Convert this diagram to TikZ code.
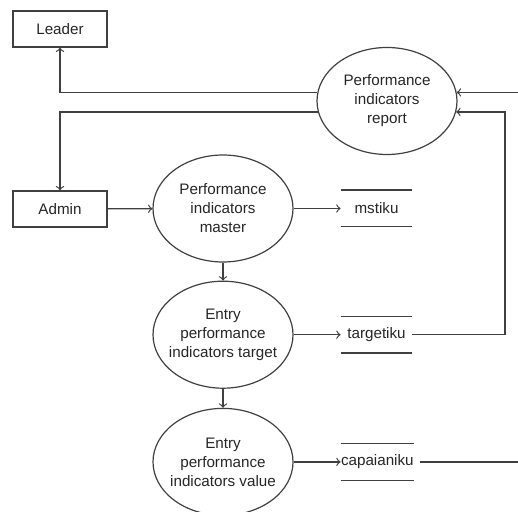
\documentclass[tikz,border=0pt]{standalone}
\usepackage{fontspec}
\setmainfont{Liberation Sans}
\usetikzlibrary{shapes.geometric,positioning}

\begin{document}
\begin{tikzpicture}[x=0.5pt,y=-0.5pt,
        every node/.style={font=\fontsize{7.6}{9.5}\selectfont, text=black!85, align=center},
        entity/.style={draw=black!75, line width=0.6pt, minimum width=47pt, minimum height=18pt, inner sep=0pt},
        process/.style={draw=black!75, line width=0.6pt, ellipse, minimum width=70pt, minimum height=53.5pt, inner xsep=-4pt, inner ysep=0pt},
        store/.style={minimum width=35.5pt, minimum height=18pt, inner sep=0pt},
        flow/.style={->, draw=black!75, line width=0.6pt},
        line/.style={draw=black!75, line width=0.6pt}]
    \useasboundingbox (0,0) rectangle (518,512);

    % external entities
    \node[entity] (leader) at (60,29) {Leader};
    \node[entity] (admin) at (60,209) {Admin};

    % processes
    \node[process] (report) at (387,101) {Performance\\indicators\\report};
    \node[process] (master) at (223,208.5) {Performance\\indicators\\master};
    \node[process, below=9pt of master] (target) {Entry\\performance\\indicators target};
    \node[process, below=9.5pt of target] (value) {Entry\\performance\\indicators value};

    % data stores
    \node[store, right=23.5pt of master] (mstiku) {mstiku};
    \node[store, right=23.5pt of target] (targetiku) {targetiku};
    \node[store, right=23.5pt of value] (capaianiku) {capaianiku};
    \foreach \s in {mstiku,targetiku,capaianiku}
        \draw[line] (\s.north west) -- (\s.north east) (\s.south west) -- (\s.south east);

    \coordinate (loop) at (report.351 -| 505,0);
    \coordinate (rin) at (report.7 -| 518,0);
    \coordinate (rout) at (capaianiku.east -| 518,0);

    % flows
    \draw[flow] (report.173) -| (leader);
    \draw[flow] (report.189) -| (admin);
    \draw[flow] (admin) -- (master);
    \draw[flow] (master) -- (mstiku);
    \draw[flow] (master) -- (target);
    \draw[flow] (target) -- (targetiku);
    \draw[flow] (target) -- (value);
    \draw[flow] (value) -- (capaianiku);
    \draw[flow] (targetiku.east) -| (loop) -- (report.351);
    \draw[line] ([xshift=3pt]capaianiku.east) -- (rout);
    \draw[flow] (rin) -- (report.7);
\end{tikzpicture}
\end{document}
